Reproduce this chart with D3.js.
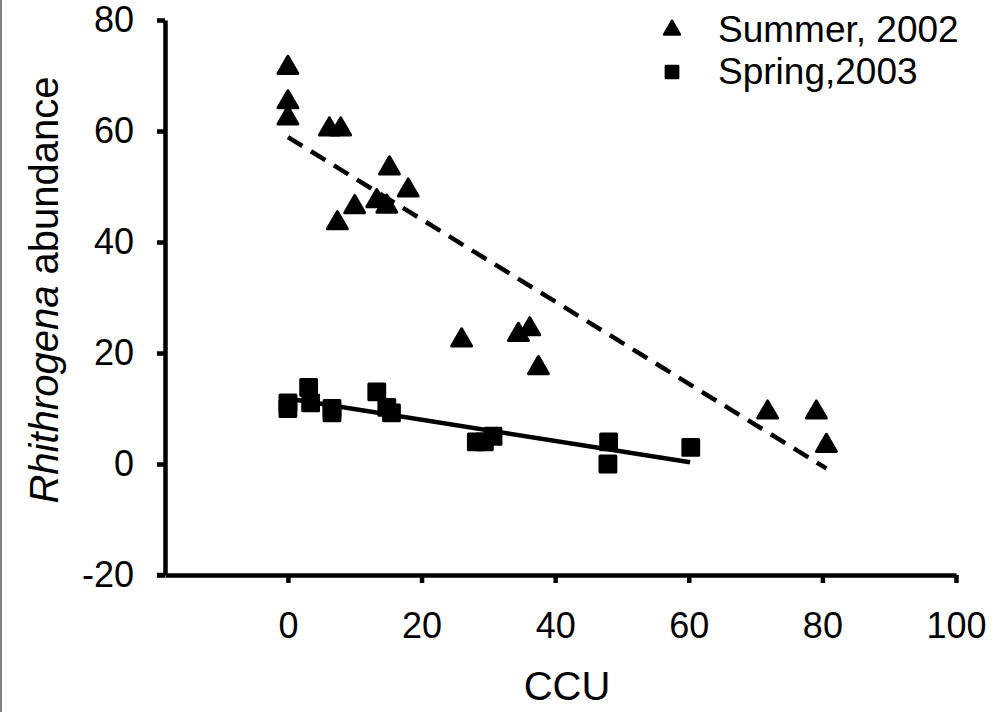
<!DOCTYPE html>
<html>
<head>
<meta charset="utf-8">
<script src="https://cdn.jsdelivr.net/npm/d3@7"></script>
<style>
  body { margin: 0; background: #fff; }
  text { font-family: "Liberation Sans", Arial, sans-serif; fill: #000; }
</style>
</head>
<body>
<div id="chart"></div>
<script>
// Summer 2002 (triangles)
var summerCCU = [0, 0, 0, 6.2, 7.9, 7.4, 10, 13.3, 14.8, 15.2, 18, 26, 34.5, 36.2, 37.5, 71.8, 79.1, 80.6];
var summerAbund = [71.4, 65.2, 62.3, 60.3, 60.3, 43.4, 46.3, 47.4, 46.4, 53.3, 49.3, 22.3, 23.3, 24.3, 17.3, 9.3, 9.3, 3.3];

// Spring 2003 (squares)
var springCCU = [0, 0, 3.1, 3.4, 6.6, 6.6, 13.3, 14.8, 15.5, 28.2, 29.4, 30.7, 48, 47.9, 60.3];
var springAbund = [11, 10, 13.8, 11, 10, 9.2, 13, 10.2, 9.2, 4, 4, 5, 4, 0, 3];

// fitted lines, endpoints
var summerFitX = [0, 80.6];
var summerFitY = [58.9, -0.8];
var springFitX = [0, 60.2];
var springFitY = [11.8, 0.3];

var xTicks = [0, 20, 40, 60, 80, 100];
var yTicks = [-20, 0, 20, 40, 60, 80];
var legendLabels = ["Summer, 2002", "Spring,2003"];

var width = 1001, height = 712;

var x = d3.scaleLinear().domain([-18.4, 100]).range([165, 956]);
var y = d3.scaleLinear().domain([-20, 80]).range([575, 20]);

var svg = d3.select("#chart").append("svg")
    .attr("width", width)
    .attr("height", height);

// left border line
svg.append("line")
    .attr("x1", 1).attr("x2", 1)
    .attr("y1", 0).attr("y2", height)
    .style("stroke", "#7f7f7f")
    .style("stroke-width", 2);

// y axis
var yAxis = svg.append("g")
    .attr("transform", "translate(" + x(-18.4) + ",0)")
    .call(d3.axisLeft(y).tickValues(yTicks).tickSize(8).tickSizeOuter(0).tickPadding(23)
      .tickFormat(function(d) { return String(d); }));

// x axis
var xAxis = svg.append("g")
    .attr("transform", "translate(0," + y(-20) + ")")
    .call(d3.axisBottom(x).tickValues(xTicks).tickSize(8).tickSizeOuter(0).tickPadding(29)
      .tickFormat(function(d) { return String(d); }));

[yAxis, xAxis].forEach(function(a) {
  a.select(".domain").style("stroke", "#000").style("stroke-width", 4.5);
  a.selectAll(".tick line").style("stroke", "#000").style("stroke-width", 4.5);
  a.selectAll(".tick text")
    .style("font-size", "36px")
    .style("font-family", "'Liberation Sans', Arial, sans-serif");
});

// extend x axis left to meet the -20 tick
svg.append("line")
    .attr("x1", x(-18.4) - 8).attr("x2", x(-18.4))
    .attr("y1", y(-20)).attr("y2", y(-20))
    .style("stroke", "#000").style("stroke-width", 4.5);

// x axis label
svg.append("text")
    .attr("x", 567)
    .attr("y", 700)
    .style("text-anchor", "middle")
    .style("font-size", "40px")
    .text("CCU");

// y axis label
var yLabel = svg.append("text")
    .attr("transform", "translate(58," + 290 + ") rotate(-90)")
    .style("text-anchor", "middle")
    .style("font-size", "40px");
yLabel.append("tspan").style("font-style", "italic").text("Rhithrogena");
yLabel.append("tspan").text(" abundance");

// fitted lines
svg.append("line")
    .attr("x1", x(summerFitX[0])).attr("y1", y(summerFitY[0]))
    .attr("x2", x(summerFitX[1])).attr("y2", y(summerFitY[1]))
    .style("stroke", "#000").style("stroke-width", 4.5)
    .style("stroke-dasharray", "17,10");

svg.append("line")
    .attr("x1", x(springFitX[0])).attr("y1", y(springFitY[0]))
    .attr("x2", x(springFitX[1])).attr("y2", y(springFitY[1]))
    .style("stroke", "#000").style("stroke-width", 4.5);

var tri = d3.symbol().type(d3.symbolTriangle).size(170);
var sq = d3.symbol().type(d3.symbolSquare).size(250);

// triangles
svg.append("g")
  .selectAll("path")
  .data(summerCCU.map(function(d, i) { return {x: d, y: summerAbund[i]}; }))
  .enter()
  .append("path")
    .attr("d", tri)
    .attr("transform", function(d) { return "translate(" + x(d.x) + "," + y(d.y) + ")"; })
    .style("fill", "#000")
    .style("stroke", "#000")
    .style("stroke-width", 3)
    .style("stroke-linejoin", "round");

// squares
svg.append("g")
  .selectAll("path")
  .data(springCCU.map(function(d, i) { return {x: d, y: springAbund[i]}; }))
  .enter()
  .append("path")
    .attr("d", sq)
    .attr("transform", function(d) { return "translate(" + x(d.x) + "," + y(d.y) + ")"; })
    .style("fill", "#000")
    .style("stroke", "#000")
    .style("stroke-width", 3)
    .style("stroke-linejoin", "round");

// legend
var legX = 718;
var legend = svg.append("g");
legend.append("path")
    .attr("d", d3.symbol().type(d3.symbolTriangle).size(110))
    .attr("transform", "translate(" + (legX - 46) + ",30)")
    .style("fill", "#000").style("stroke", "#000").style("stroke-width", 2.5).style("stroke-linejoin", "round");
legend.append("path")
    .attr("d", d3.symbol().type(d3.symbolSquare).size(150))
    .attr("transform", "translate(" + (legX - 46) + ",72)")
    .style("fill", "#000").style("stroke", "#000").style("stroke-width", 2.5).style("stroke-linejoin", "round");
legend.selectAll("text.leg")
    .data(legendLabels)
    .enter()
    .append("text")
    .attr("class", "leg")
    .attr("x", legX)
    .attr("y", function(d, i) { return 42 + i * 42; })
    .style("font-size", "37px")
    .text(function(d) { return d; });
</script>
</body>
</html>
